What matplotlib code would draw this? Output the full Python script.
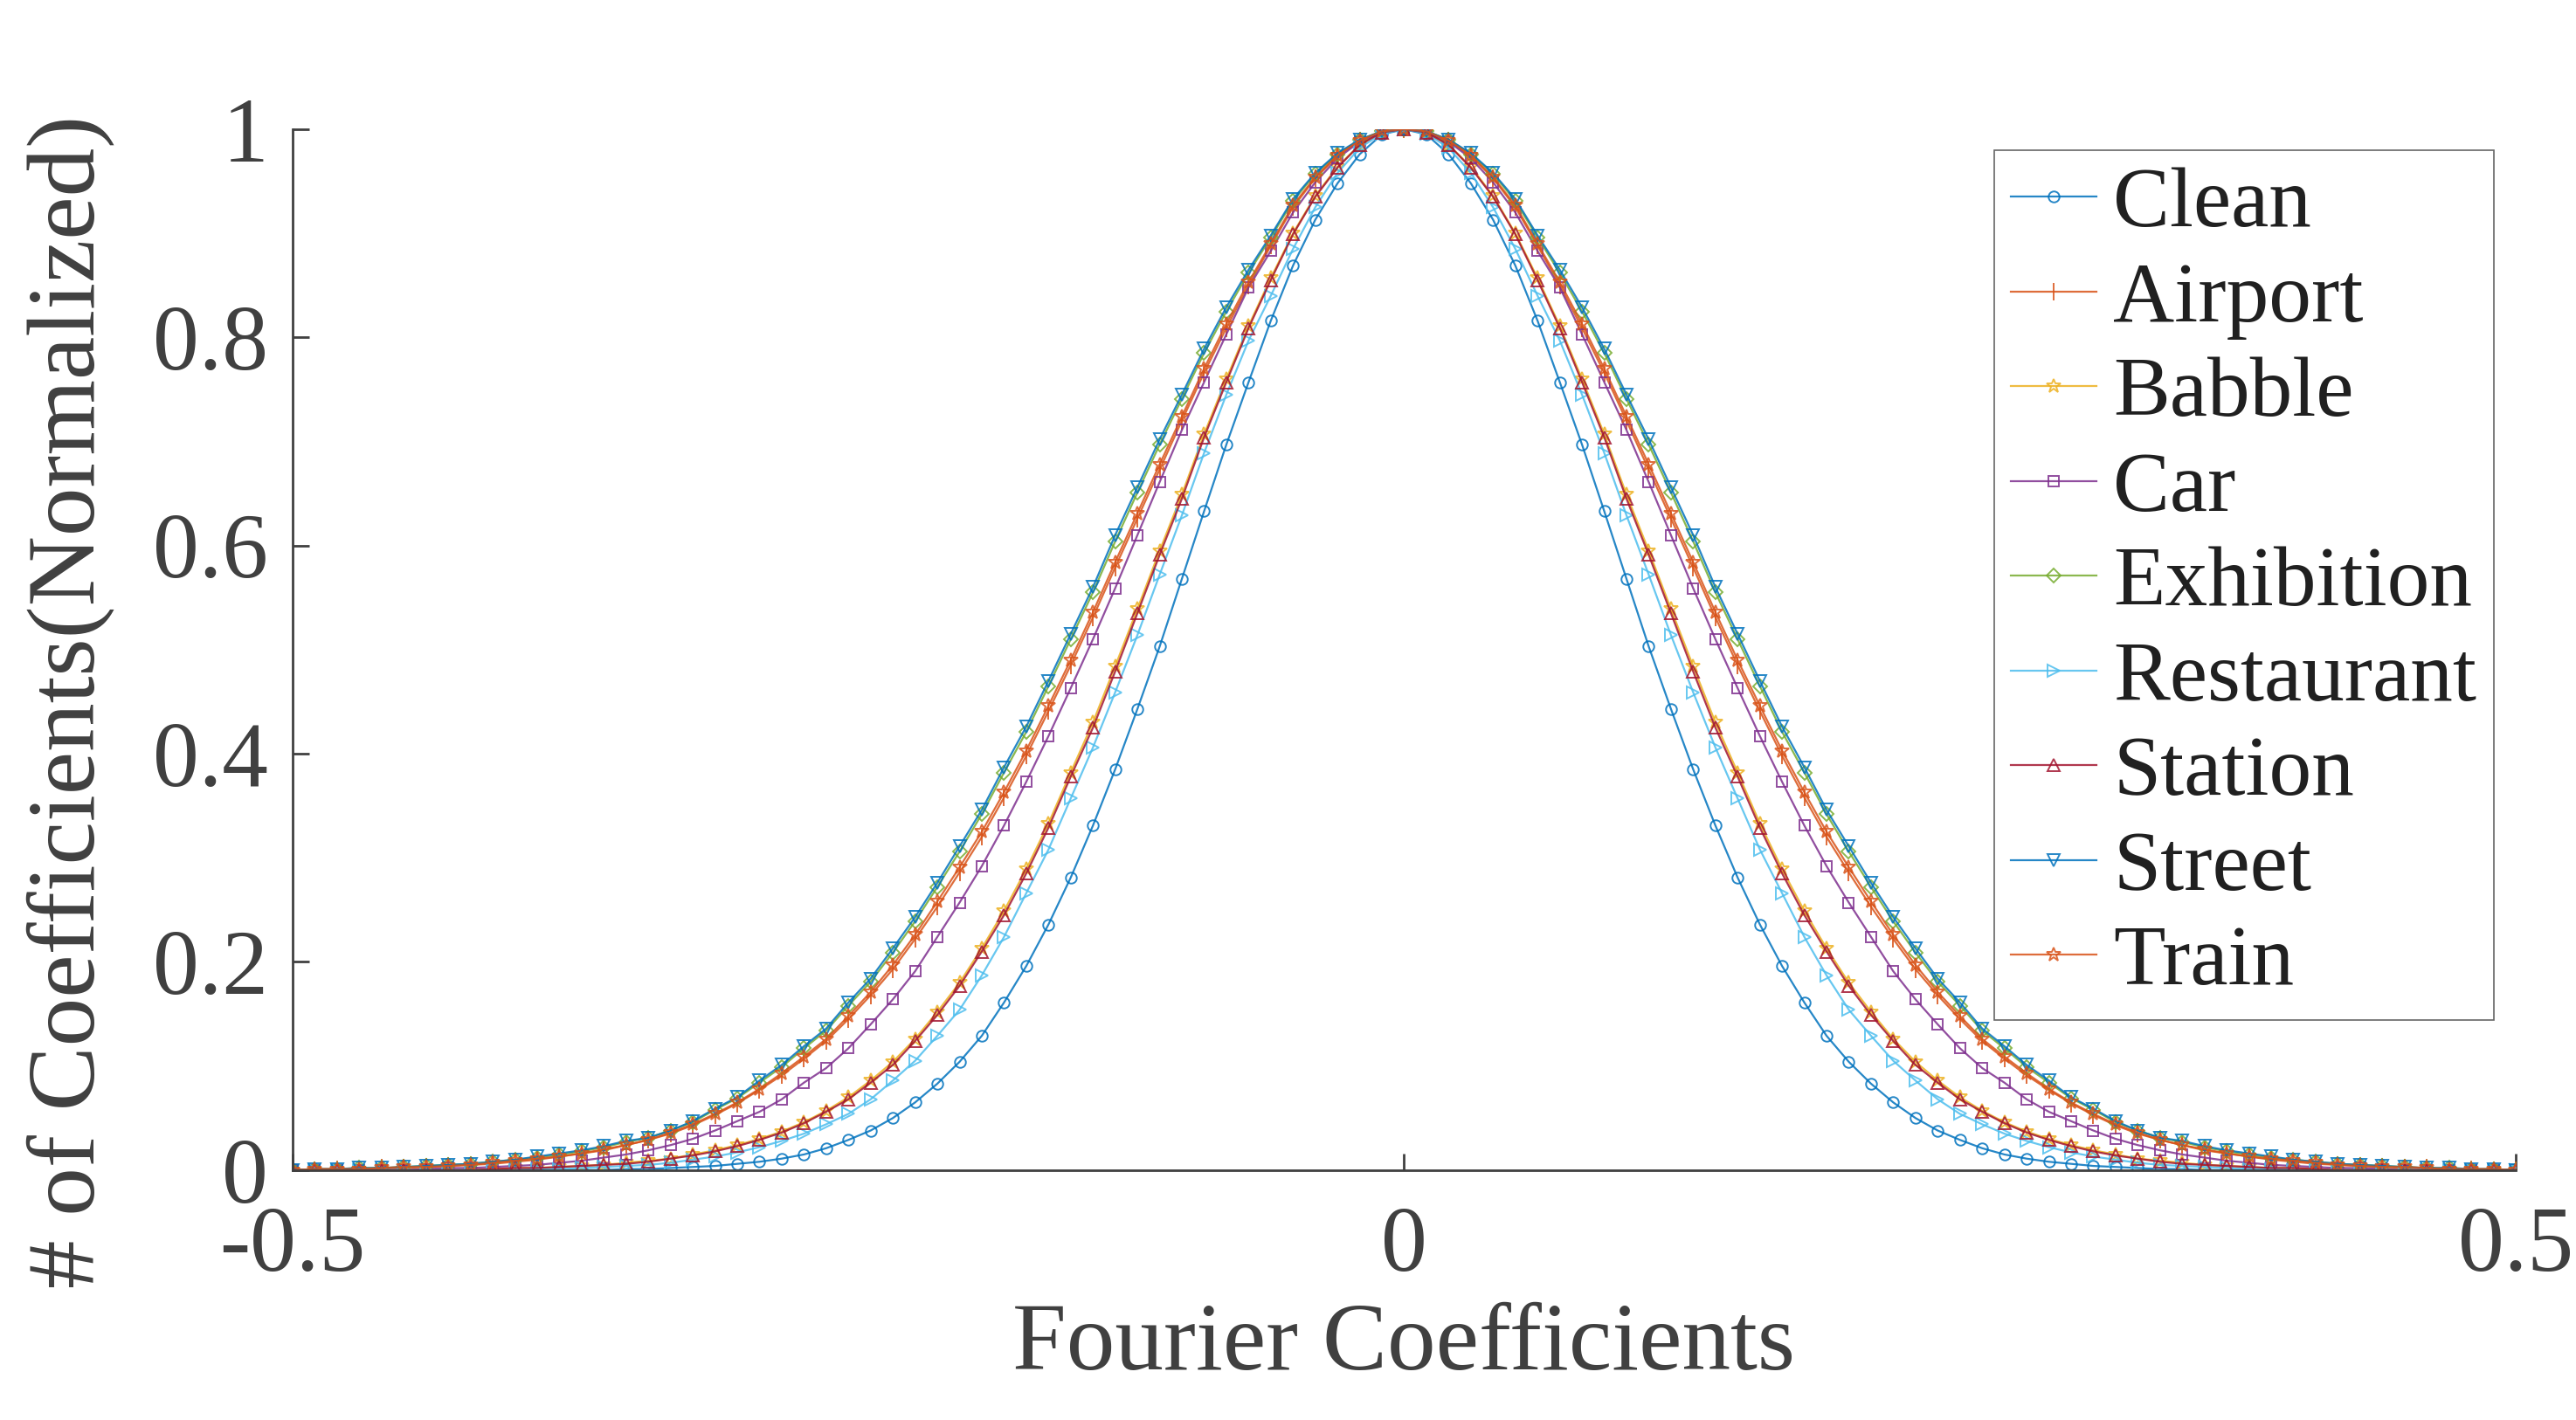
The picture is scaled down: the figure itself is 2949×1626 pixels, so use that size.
import numpy as np
from matplotlib import pyplot as plt

plt.rcParams['font.family'] = ['Liberation Serif', 'DejaVu Serif']

# right half of each curve, read at x = 0, 0.01, ..., 0.5 (curves are mirrored about 0)
clean = [1, .995, .976, .948, .913, .869, .816, .757, .697, .633, .568, .503, .443, .385, .331, .281, .236,
         .196, .161, .129, .104, .083, .065, .050, .038, .029, .021, .015, .011, .008, .006, .004, .003, .002,
         .001, .001] + [0] * 15
airport = [1, .998, .989, .974, .953, .925, .888, .850, .809, .766, .720, .673, .626, .579, .531, .485, .441,
           .398, .358, .320, .286, .253, .222, .193, .168, .145, .124, .107, .091, .077, .064, .053, .043, .035,
           .029, .024, .019, .016, .013, .010, .008, .006, .005, .004, .003, .002, .002, .001, .001, 0, 0]
babble = [1, .997, .985, .964, .936, .900, .857, .811, .760, .707, .649, .595, .539, .484, .430, .382, .333,
          .289, .249, .213, .180, .152, .126, .104, .086, .070, .057, .046, .037, .030, .024, .019, .015, .011,
          .009, .007, .005, .004, .003, .002, .002, .001] + [0] * 9
car = [1, .997, .988, .972, .949, .920, .883, .848, .803, .757, .711, .661, .610, .559, .510, .463, .417, .373,
       .331, .292, .257, .224, .191, .164, .140, .117, .098, .084, .068, .056, .047, .038, .030, .024, .019, .015,
       .012, .009, .007, .005, .004, .003, .002, .002, .001] + [0] * 6
exhibition = [1, .998, .990, .976, .957, .931, .896, .862, .825, .785, .741, .697, .651, .604, .555, .510, .465,
              .421, .382, .342, .306, .272, .239, .209, .181, .158, .134, .117, .099, .084, .069, .058, .046, .038,
              .031, .027, .022, .018, .015, .012, .010, .008, .006, .005, .004, .003, .002, .002, .001, .001, 0]
restaurant = [1, .996, .982, .958, .925, .885, .840, .797, .745, .689, .629, .572, .514, .459, .406, .357, .308,
              .266, .224, .187, .154, .129, .105, .086, .068, .054, .044, .035, .028, .022, .017, .013, .010, .007,
              .005, .004, .003, .002, .001, .001] + [0] * 11
station = [1, .997, .985, .963, .935, .899, .855, .809, .757, .704, .645, .591, .535, .479, .425, .378, .329,
           .285, .245, .210, .177, .149, .124, .101, .084, .068, .056, .045, .036, .029, .023, .018, .014, .011,
           .008, .006, .005, .004, .003, .002, .002, .001] + [0] * 9
street = [1, .998, .990, .977, .958, .933, .898, .865, .829, .789, .745, .702, .656, .610, .560, .515, .470,
          .426, .387, .346, .311, .276, .243, .213, .184, .161, .136, .119, .101, .086, .070, .059, .047, .038,
          .031, .028, .023, .019, .016, .013, .010, .008, .006, .005, .004, .003, .002, .002, .001, .001, 0]
train = [1, .998, .989, .975, .954, .927, .890, .853, .813, .770, .724, .678, .631, .584, .536, .490, .446,
         .403, .363, .325, .291, .258, .226, .197, .171, .148, .126, .109, .093, .078, .065, .054, .044, .036,
         .029, .024, .020, .016, .013, .011, .009, .007, .005, .004, .003, .003, .002, .001, .001, .001, 0]

names = ["Clean", "Airport", "Babble", "Car", "Exhibition", "Restaurant", "Station", "Street", "Train"]
halves = [clean, airport, babble, car, exhibition, restaurant, station, street, train]
colors = ['#0072BD', '#D95319', '#EDB120', '#7E2F8E', '#77AC30', '#4DBEEE', '#A2142F', '#0072BD', '#D95319']
markers = ['o', '|', '*', 's', 'D', '>', '^', 'v', '*']
msizes = [9, 14, 12, 8, 8, 10, 10, 10, 12]

x = np.linspace(-0.5, 0.5, 101)

fig = plt.figure(figsize=(29.49, 16.26), dpi=100)
ax = fig.add_axes([0.1136, 0.176, 0.863, 0.733])
for name, half, c, m, ms in zip(names, halves, colors, markers, msizes):
    y = np.array(half[::-1][:-1] + half)
    ax.plot(x, y, color=c, alpha=0.85, lw=1.6, marker=m, ms=ms, mfc='none', mew=1.4, label=name)

ax.set_xlim(-0.5, 0.5)
ax.set_ylim(0, 1)
ax.set_xticks([-0.5, 0, 0.5])
ax.set_xticklabels(['-0.5', '0', '0.5'])
ax.set_yticks([0, 0.2, 0.4, 0.6, 0.8, 1])
ax.set_yticklabels(['0', '0.2', '0.4', '0.6', '0.8', '1'])
for s in ['top', 'right']:
    ax.spines[s].set_visible(False)
for s in ['left', 'bottom']:
    ax.spines[s].set_color('#404040')
    ax.spines[s].set_linewidth(2)
ax.tick_params(colors='#404040', labelsize=76, width=2, length=14, direction='in')
ax.tick_params(axis='x', pad=30)
ax.tick_params(axis='y', pad=20)
ax.set_xlabel('Fourier Coefficients', fontsize=80, color='#404040', labelpad=10)
ax.set_ylabel('# of Coefficients(Normalized)', fontsize=80, color='#404040', labelpad=0)
ax.yaxis.set_label_coords(-0.08, 0.45)

leg = ax.legend(loc='upper right', bbox_to_anchor=(0.99, 0.98), fontsize=70, frameon=True, fancybox=False,
                handlelength=1.0, handletextpad=0.2, labelspacing=0.2, borderpad=0.2, borderaxespad=0)
leg.get_frame().set_edgecolor('#404040')
leg.get_frame().set_linewidth(1.2)
for t in leg.get_texts():
    t.set_color('#202020')

fig.savefig('out.png', dpi=100)
